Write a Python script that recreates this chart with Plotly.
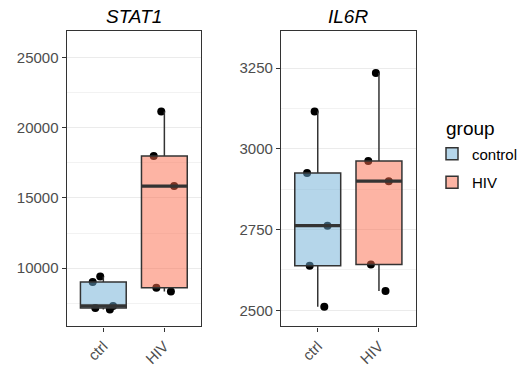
import numpy as np
import plotly.graph_objects as go

genes = ["STAT1", "IL6R"]
categories = ["ctrl", "HIV"]
legend_names = ["control", "HIV"]

stat1_ctrl = [9400, 9010, 7300, 7160, 7050]
stat1_hiv = [21170, 18000, 15850, 8600, 8330]
il6r_ctrl = [3116, 2925, 2762, 2638, 2511]
il6r_hiv = [3235, 2962, 2900, 2642, 2560]

stat1_ticks = [10000, 15000, 20000, 25000]
il6r_ticks = [2500, 2750, 3000, 3250]

data = {"STAT1": [stat1_ctrl, stat1_hiv], "IL6R": [il6r_ctrl, il6r_hiv]}
ticks = {"STAT1": stat1_ticks, "IL6R": il6r_ticks}
yranges = {"STAT1": [5840, 26880], "IL6R": [2450, 3364]}

fills = ["rgba(107,174,214,0.5)", "rgba(251,106,74,0.5)"]
FONT = "Liberation Sans, Arial, sans-serif"
W, H = 523, 367
BW = 0.75

fig = go.Figure()
xdoms = [[66.7 / W, 201 / W], [281 / W, 415.7 / W]]
ydom = [(H - 330) / H, (H - 31.7) / H]

for p, gene in enumerate(genes):
    xa = "x" if p == 0 else "x2"
    ya = "y" if p == 0 else "y2"
    for i, vals in enumerate(data[gene]):
        # points (drawn under the box)
        fig.add_trace(go.Box(
            x0=i, y=vals, xaxis=xa, yaxis=ya, width=BW,
            boxpoints="all", jitter=0.55, pointpos=0,
            marker=dict(color="black", size=8),
            line=dict(width=0, color="rgba(0,0,0,0)"),
            fillcolor="rgba(0,0,0,0)", whiskerwidth=0,
            showlegend=False, hoverinfo="skip",
            quartilemethod="inclusive",
        ))
        fig.add_trace(go.Box(
            x0=i, y=vals, xaxis=xa, yaxis=ya, width=BW,
            boxpoints=False, name=legend_names[i],
            line=dict(width=1.5, color="#333333"),
            fillcolor=fills[i], whiskerwidth=0,
            showlegend=(p == 0), legendgroup=legend_names[i],
            quartilemethod="inclusive",
        ))
        med = float(np.median(vals))
        fig.add_trace(go.Scatter(
            x=[i - BW / 2, i + BW / 2], y=[med, med], mode="lines",
            line=dict(color="#333333", width=3.2), xaxis=xa, yaxis=ya,
            showlegend=False, hoverinfo="skip",
        ))
    fig.add_annotation(
        text=f"<i>{gene}</i>", x=(xdoms[p][0] + xdoms[p][1]) / 2, y=(H - 29) / H,
        xref="paper", yref="paper", xanchor="center", yanchor="bottom",
        showarrow=False, font=dict(family=FONT, size=19, color="black"),
    )

fig.add_annotation(
    text="group", x=444 / W, y=(H - 117) / H, xref="paper", yref="paper",
    xanchor="left", yanchor="top", showarrow=False,
    font=dict(family=FONT, size=19, color="black"),
)

axis_common = dict(
    showline=True, mirror=True, linecolor="#333333", linewidth=1.3,
    ticks="outside", ticklen=4, tickcolor="#333333", tickwidth=1,
    tickfont=dict(family=FONT, size=15, color="#4D4D4D"), zeroline=False,
)
for p, gene in enumerate(genes):
    sfx = "" if p == 0 else "2"
    step = ticks[gene][1] - ticks[gene][0]
    minor_vals = [t - step / 2 for t in ticks[gene]] + [ticks[gene][-1] + step / 2]
    fig.update_layout(**{
        f"xaxis{sfx}": dict(
            domain=xdoms[p], range=[-0.6, 1.6], tickvals=[0, 1], ticktext=categories,
            tickangle=-45, showgrid=False, anchor=f"y{sfx}", **axis_common),
        f"yaxis{sfx}": dict(
            domain=ydom, range=yranges[gene], tickvals=ticks[gene],
            ticktext=[str(t) for t in ticks[gene]],
            showgrid=True, gridcolor="#EBEBEB", gridwidth=1.3,
            minor=dict(tickvals=minor_vals, showgrid=True, gridcolor="#F2F2F2",
                       gridwidth=0.7, ticks=""),
            anchor=f"x{sfx}", **axis_common),
    })

fig.update_layout(
    width=W, height=H, margin=dict(l=0, r=0, t=0, b=0),
    plot_bgcolor="white", paper_bgcolor="white", boxmode="overlay",
    font=dict(family=FONT, color="black"),
    legend=dict(
        x=432 / W, y=(H - 139) / H, xanchor="left", yanchor="top",
        font=dict(family=FONT, size=15), tracegroupgap=6,
        bgcolor="rgba(0,0,0,0)",
    ),
)

fig.write_html("out.html")
